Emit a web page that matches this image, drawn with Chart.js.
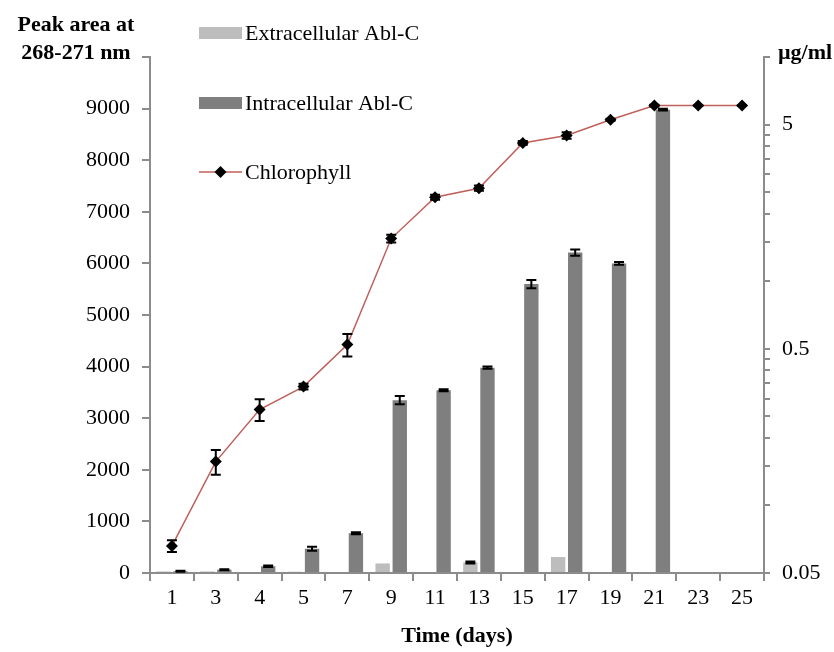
<!DOCTYPE html>
<html>
<head>
<meta charset="utf-8">
<script src="https://cdn.jsdelivr.net/npm/chart.js@4.4.1/dist/chart.umd.min.js"></script>
<style>
  html, body { margin: 0; padding: 0; background: #fff; }
  #wrap { width: 834px; height: 652px; position: relative; }
</style>
</head>
<body>
<div id="wrap"><canvas id="c" width="834" height="652"></canvas></div>
<script>
// Sampling days
const days = ['1', '3', '4', '5', '7', '9', '11', '13', '15', '17', '19', '21', '23', '25'];

// Peak area at 268-271 nm (left axis)
const extracellular    = [30, 30, 0, 25, 0, 185, 0, 205, 0, 310, 0, 0, null, null];
const extracellularErr = [0, 0, 0, 0, 0, 0, 0, 20, 0, 0, 0, 0, null, null];
const intracellular    = [35, 65, 130, 470, 770, 3350, 3540, 3980, 5600, 6210, 6000, 8980, null, null];
const intracellularErr = [10, 10, 15, 40, 20, 80, 20, 20, 80, 60, 25, 15, null, null];

// Chlorophyll, µg/ml (right axis, log scale)
const chlorophyll    = [0.066, 0.157, 0.268, 0.339, 0.522, 1.55, 2.37, 2.60, 4.14, 4.47, 5.25, 6.07, 6.07, 6.07];
const chlorophyllErr = [0.004, 0.02, 0.03, 0.01, 0.06, 0.06, 0.06, 0.07, 0.08, 0.15, 0.05, 0.05, 0.02, 0.02];

// Right-axis ticks: labelled decades plus unlabelled minor steps
const rightMajor = [0.05, 0.5, 5];
const rightTicks = [0.05, 0.1, 0.15, 0.2, 0.25, 0.3, 0.35, 0.4, 0.45, 0.5,
                    1, 1.5, 2, 2.5, 3, 3.5, 4, 4.5, 5, 10];

const SERIF = '"Liberation Serif", "Times New Roman", serif';
const AXIS_GREY = '#8c8c8c';
const LIGHT_BAR = '#bdbdbd';
const DARK_BAR = '#7f7f7f';
const LINE_RED = '#c0605c';

// Error bars for any dataset that carries an `errors` array
const errorBars = {
  id: 'errorBars',
  afterDatasetsDraw(chart) {
    const ctx = chart.ctx;
    ctx.save();
    ctx.strokeStyle = '#000';
    ctx.lineWidth = 2;
    chart.data.datasets.forEach((ds, di) => {
      if (!ds.errors) return;
      const meta = chart.getDatasetMeta(di);
      const scale = chart.scales[ds.yAxisID];
      meta.data.forEach((el, i) => {
        const v = ds.data[i], e = ds.errors[i];
        if (v == null || !e) return;
        const yHi = scale.getPixelForValue(v + e);
        const yLo = scale.getPixelForValue(v - e);
        const x = el.x, cap = 5;
        ctx.beginPath();
        ctx.moveTo(x, yHi); ctx.lineTo(x, yLo);
        ctx.moveTo(x - cap, yHi); ctx.lineTo(x + cap, yHi);
        ctx.moveTo(x - cap, yLo); ctx.lineTo(x + cap, yLo);
        ctx.stroke();
      });
    });
    ctx.restore();
  }
};

// Axis titles and the stacked legend
const annotations = {
  id: 'annotations',
  afterDraw(chart) {
    const ctx = chart.ctx;
    const area = chart.chartArea;
    ctx.save();
    ctx.fillStyle = '#000';
    ctx.textBaseline = 'middle';

    ctx.font = 'bold 22px ' + SERIF;
    ctx.textAlign = 'center';
    ctx.fillText('Peak area at', 76, 25);
    ctx.fillText('268-271 nm', 76, 53);
    ctx.fillText('µg/ml', 805, 53);
    ctx.fillText('Time (days)', (area.left + area.right) / 2, 636);

    ctx.font = '22px ' + SERIF;
    ctx.textAlign = 'left';
    const items = [
      { label: 'Extracellular Abl-C', y: 33, kind: 'box', color: LIGHT_BAR },
      { label: 'Intracellular Abl-C', y: 103, kind: 'box', color: DARK_BAR },
      { label: 'Chlorophyll', y: 172, kind: 'line' }
    ];
    items.forEach(it => {
      if (it.kind === 'box') {
        ctx.fillStyle = it.color;
        ctx.fillRect(199, it.y - 6, 43, 12);
      } else {
        ctx.strokeStyle = LINE_RED;
        ctx.lineWidth = 1.5;
        ctx.beginPath(); ctx.moveTo(199, it.y); ctx.lineTo(242, it.y); ctx.stroke();
        ctx.fillStyle = '#000';
        ctx.beginPath();
        ctx.moveTo(220.5, it.y - 6); ctx.lineTo(226.5, it.y);
        ctx.lineTo(220.5, it.y + 6); ctx.lineTo(214.5, it.y);
        ctx.closePath(); ctx.fill();
      }
      ctx.fillStyle = '#000';
      ctx.fillText(it.label, 245, it.y + 1);
    });
    ctx.restore();
  }
};

new Chart(document.getElementById('c'), {
  data: {
    labels: days,
    datasets: [
      {
        type: 'line', label: 'Chlorophyll', data: chlorophyll, errors: chlorophyllErr,
        yAxisID: 'y1', order: 0,
        borderColor: LINE_RED, borderWidth: 1.5,
        pointStyle: 'rectRot', pointRadius: 6, pointBackgroundColor: '#000',
        pointBorderColor: '#000', pointBorderWidth: 0, tension: 0
      },
      {
        type: 'bar', label: 'Extracellular Abl-C', data: extracellular, errors: extracellularErr,
        yAxisID: 'y', order: 1, backgroundColor: LIGHT_BAR,
        categoryPercentage: 0.78, barPercentage: 0.84
      },
      {
        type: 'bar', label: 'Intracellular Abl-C', data: intracellular, errors: intracellularErr,
        yAxisID: 'y', order: 1, backgroundColor: DARK_BAR,
        categoryPercentage: 0.78, barPercentage: 0.84
      }
    ]
  },
  options: {
    responsive: false,
    animation: false,
    layout: { padding: { top: 57, left: 0, right: 0, bottom: 0 } },
    plugins: { legend: { display: false }, tooltip: { enabled: false } },
    scales: {
      x: {
        type: 'category', offset: true,
        grid: { offset: true, drawOnChartArea: false, drawTicks: true, tickLength: 8, color: AXIS_GREY, lineWidth: 2 },
        border: { color: AXIS_GREY, width: 2 },
        ticks: { color: '#000', font: { family: SERIF, size: 22 }, padding: 4, maxRotation: 0 },
        afterFit(s) { s.height = 79; }
      },
      y: {
        position: 'left', min: 0, max: 10000,
        grid: { drawOnChartArea: false, tickLength: 8, color: AXIS_GREY, lineWidth: 2 },
        border: { color: AXIS_GREY, width: 2 },
        ticks: {
          stepSize: 1000, color: '#000', font: { family: SERIF, size: 22 }, padding: 12,
          callback: v => (v >= 10000 ? '' : String(v))
        },
        afterFit(s) { s.width = 150; }
      },
      y1: {
        type: 'logarithmic', position: 'right', min: 0.05, max: 10,
        grid: { drawOnChartArea: false, tickLength: 6, color: AXIS_GREY, lineWidth: 2 },
        border: { color: AXIS_GREY, width: 2 },
        afterBuildTicks(s) { s.ticks = rightTicks.map(v => ({ value: v })); },
        ticks: {
          autoSkip: false, color: '#000', font: { family: SERIF, size: 22 }, padding: 12,
          callback: v => (rightMajor.includes(v) ? String(v) : '')
        },
        afterFit(s) { s.width = 70; }
      }
    }
  },
  plugins: [errorBars, annotations]
});
</script>
</body>
</html>
